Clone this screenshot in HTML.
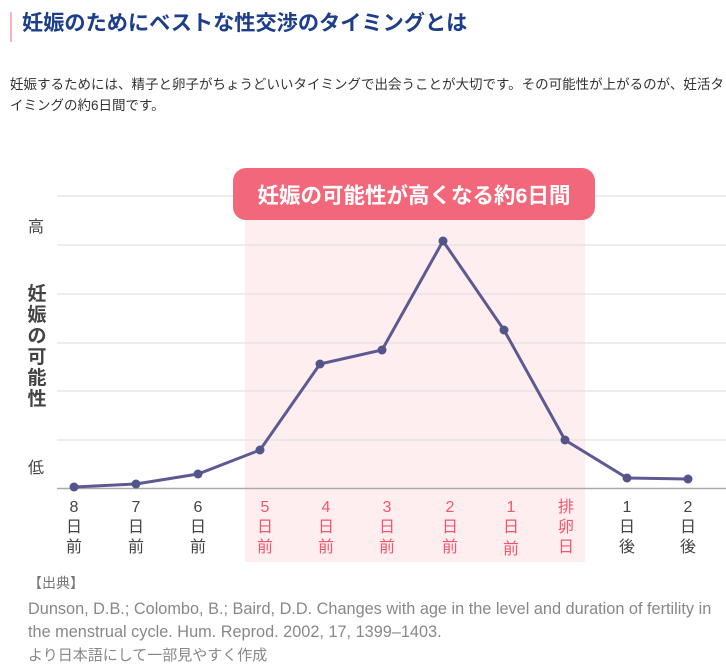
<!DOCTYPE html>
<html><head><meta charset="utf-8"><style>
body{margin:0;width:726px;height:666px;background:#fff;overflow:hidden;position:relative;font-family:"Liberation Sans","Noto Sans CJK JP",sans-serif;}
.a{position:absolute;white-space:nowrap;}
</style></head><body>
<div class="a" style="left:10px;top:12px;width:2px;height:30px;background:#f3b6c0"></div>
<div class="a" style="left:22px;top:9px;font-size:21.2px;font-weight:bold;color:#1d3e8a;line-height:30px">妊娠のためにベストな性交渉のタイミングとは</div>
<div class="a" style="left:10px;top:74px;font-size:13.5px;color:#333;line-height:21px">妊娠するためには、精子と卵子がちょうどいいタイミングで出会うことが大切です。その可能性が上がるのが、妊活タ<br>イミングの約6日間です。</div>
<svg class="a" style="left:0;top:0" width="726" height="666">
<rect x="245" y="196" width="340" height="366" fill="#ffeef0"/>
<g stroke="#e2e2e2" stroke-width="1.3">
<line x1="57" y1="196" x2="726" y2="196"/><line x1="57" y1="245" x2="726" y2="245"/><line x1="57" y1="294" x2="726" y2="294"/><line x1="57" y1="343" x2="726" y2="343"/><line x1="57" y1="391" x2="726" y2="391"/><line x1="57" y1="440" x2="726" y2="440"/></g>
<line x1="57" y1="488.5" x2="726" y2="488.5" stroke="#aaa" stroke-width="1.5"/>
<rect x="233" y="168" width="362" height="52" rx="13" fill="#f2677a"/>
<text x="414" y="203" text-anchor="middle" font-size="21.5" font-weight="bold" fill="#fff" font-family="Liberation Sans,Noto Sans CJK JP,sans-serif">妊娠の可能性が高くなる約6日間</text>
<polyline fill="none" stroke="#5d5a93" stroke-width="3" points="74,487 136,484 198,474 260,450 320,364 382,350 443,241 504,330 565,440 627,478 688,479"/>
<g fill="#535489"><circle cx="74" cy="487" r="4.5"/><circle cx="136" cy="484" r="4.5"/><circle cx="198" cy="474" r="4.5"/><circle cx="260" cy="450" r="4.5"/><circle cx="320" cy="364" r="4.5"/><circle cx="382" cy="350" r="4.5"/><circle cx="443" cy="241" r="4.5"/><circle cx="504" cy="330" r="4.5"/><circle cx="565" cy="440" r="4.5"/><circle cx="627" cy="478" r="4.5"/><circle cx="688" cy="479" r="4.5"/></g>
<g font-size="16" text-anchor="middle" font-family="Liberation Sans,Noto Sans CJK JP,sans-serif" fill="#444">
<text x="36" y="232">高</text><text x="36" y="473">低</text>
<g font-size="19" font-weight="bold" fill="#444"><text x="37" y="300">妊</text><text x="37" y="321">娠</text><text x="37" y="342">の</text><text x="37" y="363">可</text><text x="37" y="384">能</text><text x="37" y="405">性</text></g>
<g><text x="74" y="512">8</text><text x="74" y="532">日</text><text x="74" y="552">前</text>
<text x="136" y="512">7</text><text x="136" y="532">日</text><text x="136" y="552">前</text>
<text x="198" y="512">6</text><text x="198" y="532">日</text><text x="198" y="552">前</text>
<text x="627" y="512">1</text><text x="627" y="532">日</text><text x="627" y="552">後</text>
<text x="688" y="512">2</text><text x="688" y="532">日</text><text x="688" y="552">後</text></g>
<g fill="#f2566d"><text x="265" y="512">5</text><text x="265" y="532">日</text><text x="265" y="552">前</text>
<text x="326" y="512">4</text><text x="326" y="532">日</text><text x="326" y="552">前</text>
<text x="387" y="512">3</text><text x="387" y="532">日</text><text x="387" y="552">前</text>
<text x="450" y="512">2</text><text x="450" y="532">日</text><text x="450" y="552">前</text>
<text x="511" y="512">1</text><text x="511" y="532">日</text><text x="511" y="554">前</text>
<text x="566" y="512">排</text><text x="566" y="532">卵</text><text x="566" y="552">日</text></g>
</g>
</svg>
<div class="a" style="left:28px;top:573px;font-size:14px;color:#777;line-height:20px">【出典】</div>
<div class="a" style="left:28px;top:598px;font-size:16.3px;color:#888;line-height:23px">Dunson, D.B.; Colombo, B.; Baird, D.D. Changes with age in the level and duration of fertility in<br>the menstrual cycle. Hum. Reprod. 2002, 17, 1399–1403.<br><span style="font-size:15px">より日本語にして一部見やすく作成</span></div>
</body></html>
